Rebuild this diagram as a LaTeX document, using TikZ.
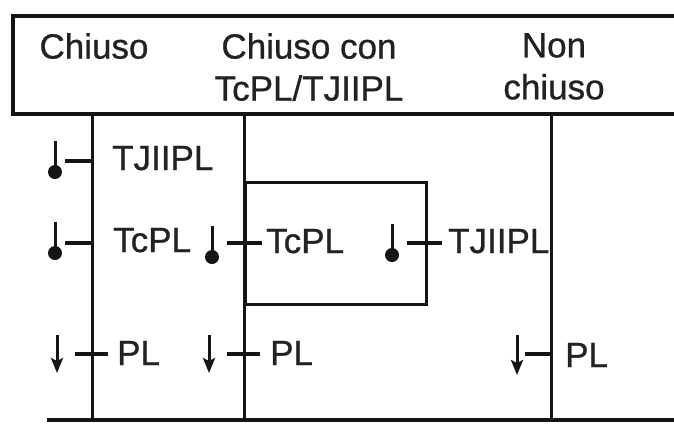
\documentclass[tikz,border=0pt]{standalone}
\usepackage{fontspec}
\setmainfont[FakeBold=0.8]{Liberation Sans}
\usetikzlibrary{arrows.meta}
\definecolor{ink}{HTML}{151515}
\definecolor{txt}{HTML}{222222}
\begin{document}
\begin{tikzpicture}[x=1pt,y=-1pt,
  lbl/.style={inner sep=0pt, anchor=base west, font=\fontsize{35}{42}\selectfont, text=txt},
  hdr/.style={inner sep=0pt, anchor=north, align=center, font=\fontsize{35}{42}\selectfont, text=txt},
  ln/.style={line width=3pt, draw=ink},
  tickline/.style={line width=3.4pt, draw=ink},
  thermo/.pic={\fill[ink] (0,0) circle (7pt); \draw[line width=3pt, ink] (0,0) -- (0,-31);},
  dnarrow/.style={line width=3pt, draw=ink, -{Stealth[length=15pt,width=12pt,inset=3pt]}}
]
\useasboundingbox (0,0) rectangle (674,424);
\fill[white] (0,0) rectangle (674,424);
% header box
\node[draw=ink, line width=3.8pt, minimum width=679pt, minimum height=98pt, anchor=north west, inner sep=0pt] (box) at (11,14) {};
\node[hdr] (h1) at (94,33) {Chiuso};
\node[hdr] (h2) at (309,33) {Chiuso con\\TcPL/TJIIPL};
\node[hdr] (h3) at (554,33) {Non\\chiuso};
% column lines
\coordinate (c1t) at (92,112); \coordinate (c1b) at (92,420);
\coordinate (c2t) at (244,112); \coordinate (c2b) at (244,420);
\coordinate (c3t) at (551,112); \coordinate (c3b) at (551,420);
\draw[ln] (c1t) -- (c1b);
\draw[ln] (c2t) -- (c2b);
\draw[ln] (c3t) -- (c3b);
\coordinate (bl) at (47,420); \coordinate (br) at (690,420);
\draw[line width=3.4pt, ink] (bl) -- (br);
% inner box
\node[draw=ink, line width=3pt, minimum width=181pt, minimum height=122pt, anchor=north west, inner sep=0pt] (inner) at (244,181) {};
% labels
\node[lbl] (l1) at (112,170) {TJIIPL};
\node[lbl] (l2) at (113,252) {TcPL};
\node[lbl] (l3) at (266,253) {TcPL};
\node[lbl] (l4) at (448,253) {TJIIPL};
\node[lbl] (p1) at (117,365) {PL};
\node[lbl] (p2) at (270,365) {PL};
\node[lbl] (p3) at (565,367) {PL};
% thermometers
\pic at (55,172) {thermo};
\pic at (55,253) {thermo};
\pic at (212,257) {thermo};
\pic at (392,255) {thermo};
% ticks
\coordinate (t1a) at (65,161); \coordinate (t1b) at (92,161);
\coordinate (t2a) at (65,243); \coordinate (t2b) at (92,243);
\coordinate (t3a) at (227,243); \coordinate (t3b) at (262,243);
\coordinate (t4a) at (407,243); \coordinate (t4b) at (442,243);
\coordinate (t5a) at (75,354); \coordinate (t5b) at (108,354);
\coordinate (t6a) at (227,354); \coordinate (t6b) at (260,354);
\coordinate (t7a) at (525,354); \coordinate (t7b) at (551,354);
\foreach \a/\b in {t1a/t1b,t2a/t2b,t3a/t3b,t4a/t4b,t5a/t5b,t6a/t6b,t7a/t7b}
  \draw[tickline] (\a) -- (\b);
% arrows
\coordinate (a1s) at (57,335); \coordinate (a1e) at (57,373);
\coordinate (a2s) at (209,335); \coordinate (a2e) at (209,373);
\coordinate (a3s) at (517,335); \coordinate (a3e) at (517,375);
\draw[dnarrow] (a1s) -- (a1e);
\draw[dnarrow] (a2s) -- (a2e);
\draw[dnarrow] (a3s) -- (a3e);
\end{tikzpicture}
\end{document}
